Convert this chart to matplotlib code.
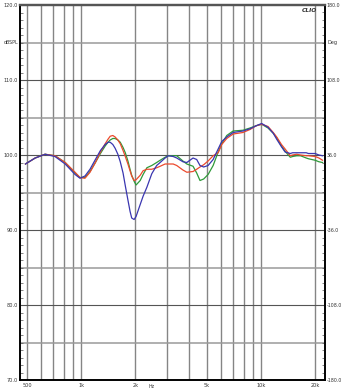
import numpy as np
import matplotlib
matplotlib.use("Agg")
import matplotlib.pyplot as plt
from matplotlib.ticker import FixedLocator, MultipleLocator, NullFormatter

# frequency grid (Hz) and three SPL curves (dB)
freq = [490, 555, 630, 715, 815, 925, 985, 1050, 1120, 1200, 1280, 1360, 1410,
        1450, 1500, 1545, 1600, 1650, 1710, 1760, 1820, 1870, 1910, 1970, 2020,
        2130, 2210, 2320, 2470, 2630, 2750, 2930, 3050, 3250, 3400, 3680, 3870,
        4190, 4390, 4580, 4800, 5080, 5420, 5780, 6050, 6450, 7000, 7940, 8690,
        9400, 10090, 10940, 11700, 12230, 13000, 13620, 14550, 15000, 15800,
        16600, 17850, 18350, 20000, 21000, 22000]

red = [98.8, 99.6, 100.1, 99.9, 99.0, 97.7, 97.0, 96.9, 97.7, 99.0, 100.4, 101.5, 102.1,
       102.5, 102.6, 102.4, 102.0, 101.5, 100.6, 99.8, 98.8, 97.9, 97.2, 96.6, 96.7,
       97.3, 97.9, 98.1, 98.1, 98.3, 98.5, 98.8, 98.8, 98.8, 98.6, 98.0, 97.7,
       97.8, 98.1, 98.4, 98.7, 99.2, 99.9, 100.3, 101.4, 102.2, 102.8, 103.0, 103.4,
       103.9, 104.1, 103.8, 103.0, 102.4, 101.4, 100.8, 99.9, 100.0, 100.1,
       100.0, 99.9, 99.9, 99.8, 99.6, 99.3]

green = [98.8, 99.6, 100.1, 99.9, 99.0, 97.6, 97.0, 97.0, 97.8, 99.0, 100.2, 101.2, 101.7,
         102.0, 102.2, 102.2, 102.0, 101.7, 101.0, 100.3, 99.2, 98.1, 97.3, 96.5, 96.0,
         96.6, 97.4, 98.3, 98.6, 99.0, 99.3, 99.7, 99.9, 99.9, 99.9, 99.2, 98.8,
         98.5, 97.6, 96.6, 96.8, 97.4, 98.6, 100.4, 101.5, 102.6, 103.2, 103.3, 103.6,
         103.9, 104.1, 103.6, 102.9, 102.3, 101.2, 100.5, 99.7, 99.8, 99.9,
         99.9, 99.6, 99.5, 99.3, 99.1, 99.0]

blue = [98.8, 99.6, 100.1, 99.8, 98.8, 97.4, 96.9, 97.2, 98.1, 99.4, 100.6, 101.4, 101.7,
        101.7, 101.4, 100.9, 100.1, 99.1, 97.6, 95.9, 94.0, 92.5, 91.6, 91.4, 91.8,
        93.4, 94.5, 95.7, 97.5, 98.6, 99.0, 99.6, 99.9, 99.8, 99.6, 99.1, 99.0,
        99.6, 99.4, 98.6, 98.4, 98.6, 99.4, 100.8, 101.8, 102.4, 103.0, 103.2, 103.5,
        103.9, 104.2, 103.7, 102.9, 102.1, 101.1, 100.4, 100.2, 100.3, 100.3,
        100.3, 100.3, 100.2, 100.2, 100.0, 99.9]

xticks = [500, 1000, 2000, 5000, 10000, 20000]
xlabels = ['500', '1k', '2k', '5k', '10k', '20k']
xgrid = [500, 600, 700, 800, 900, 1000, 2000, 3000, 4000, 5000, 6000, 7000,
         8000, 9000, 10000, 20000]
yticks = [70, 80, 90, 100, 110, 120]
ptick = [-180, -108, -36, 36, 108, 180]

fig = plt.figure(figsize=(3.42, 3.90), dpi=100)
ax = fig.add_axes([20/342, 10/390, 305/342, 375/390])

ax.set_xscale('log')
ax.set_xlim(457, 22700)
ax.set_ylim(70, 120)

for f in xgrid:
    ax.axvline(f, color='#858585', lw=1.0, zorder=1)
for v in range(75, 120, 5):
    if v % 10 == 0:
        ax.axhline(v, color='#555555', lw=0.8, zorder=1)
    else:
        ax.axhline(v, color='#9a9a9a', lw=1.1, zorder=1)

ax.plot(freq, green, color='#2f9a3a', lw=0.9, zorder=3)
ax.plot(freq, red, color='#ec4a2e', lw=0.9, zorder=3)
ax.plot(freq, blue, color='#3a36b0', lw=0.9, zorder=4)

ax.xaxis.set_major_locator(FixedLocator(xticks))
ax.xaxis.set_minor_locator(FixedLocator([]))
ax.xaxis.set_minor_formatter(NullFormatter())
ax.set_xticklabels(xlabels)
ax.tick_params(axis='x', length=0, labelsize=3.6, pad=2, colors='#333333')

ax.yaxis.set_major_locator(FixedLocator(yticks))
ax.yaxis.set_minor_locator(MultipleLocator(1))
ax.set_yticklabels(['%.1f' % v for v in yticks])
ax.tick_params(axis='y', which='major', direction='in', length=0, labelsize=3.6,
               pad=1.5, colors='#333333')
ax.tick_params(axis='y', which='minor', direction='in', length=2.5, width=0.5,
               color='#555555')

ax2 = ax.twinx()
ax2.set_ylim(-180, 180)
ax2.yaxis.set_major_locator(FixedLocator(ptick))
ax2.yaxis.set_minor_locator(MultipleLocator(7.2))
ax2.set_yticklabels(['%.1f' % v for v in ptick])
ax2.tick_params(axis='y', which='major', direction='in', length=0, labelsize=3.4,
                pad=1.0, colors='#333333')
ax2.tick_params(axis='y', which='minor', direction='in', length=2.5, width=0.5,
                color='#555555')

for a in (ax, ax2):
    a.spines['left'].set_linewidth(1.2)
    a.spines['bottom'].set_linewidth(1.2)
    a.spines['right'].set_linewidth(1.2)
    a.spines['top'].set_linewidth(1.6)
    a.spines['top'].set_color('#555555')

ax.text(-0.005, 115, 'dBSPL', transform=ax.get_yaxis_transform(), ha='right',
        va='center', fontsize=3.4, color='#333333')
ax2.text(1.008, 144, 'Deg', transform=ax2.get_yaxis_transform(), ha='left',
         va='center', fontsize=3.6, color='#333333')
ax.text(0.975, 0.993, 'CLIO', transform=ax.transAxes, ha='right', va='top',
        fontsize=4.2, fontweight='bold', fontstyle='italic', color='#333333')
ax.text(2450, 69.4, 'Hz', ha='center', va='top', fontsize=3.4, color='#333333')

fig.savefig('out.png', dpi=100)
